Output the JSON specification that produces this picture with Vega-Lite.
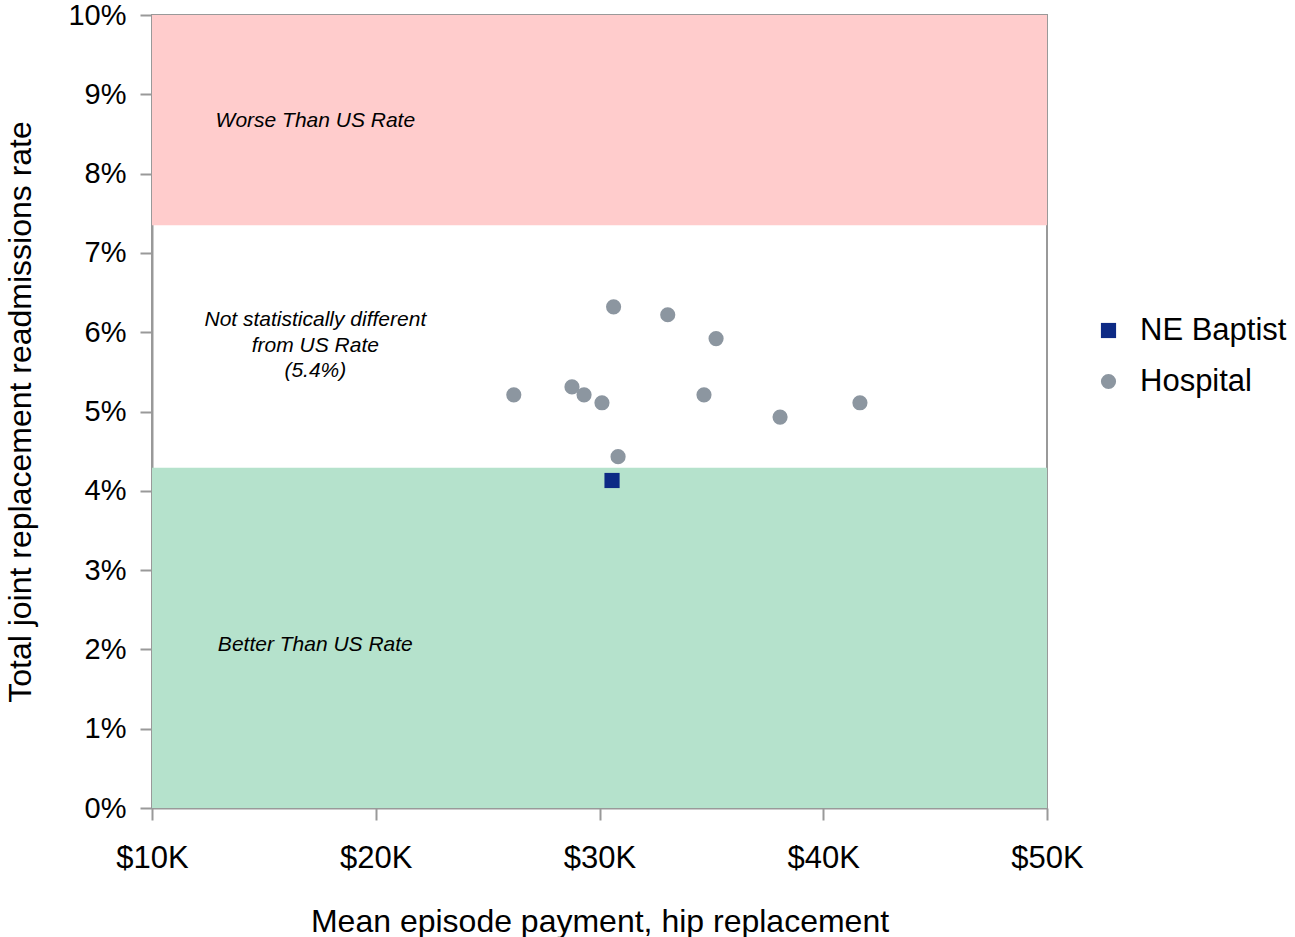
{
  "$schema": "https://vega.github.io/schema/vega-lite/v6.json",
  "autosize": "none",
  "width": 895,
  "height": 793,
  "padding": {"left": 152, "top": 15, "right": 248, "bottom": 129},
  "background": "white",
  "config": {
    "font": "Liberation Sans",
    "view": {"stroke": "#999999", "strokeWidth": 2},
    "axis": {
      "grid": false,
      "domainColor": "#999999",
      "domainWidth": 2,
      "tickColor": "#999999",
      "tickWidth": 2,
      "labelColor": "#000000",
      "titleColor": "#000000",
      "labelFont": "Liberation Sans",
      "titleFont": "Liberation Sans",
      "titleFontWeight": "normal",
      "labelFlush": false
    }
  },
  "datasets": {
    "zones": [
      {"zone": "Worse", "pay_lo": 10000, "pay_hi": 50000, "rate_lo": 7.35, "rate_hi": 10},
      {"zone": "Better", "pay_lo": 10000, "pay_hi": 50000, "rate_lo": 0, "rate_hi": 4.29}
    ],
    "notes": [
      {"note": ["Worse Than US Rate"], "payment": 17300, "rate": 8.66},
      {"note": ["Not statistically different", "from US Rate", "(5.4%)"], "payment": 17300, "rate": 6.15},
      {"note": ["Better Than US Rate"], "payment": 17300, "rate": 2.06}
    ],
    "hospitals": [
      {"type": "Hospital", "payment": 26170, "rate": 5.21},
      {"type": "Hospital", "payment": 28770, "rate": 5.31},
      {"type": "Hospital", "payment": 29310, "rate": 5.21},
      {"type": "Hospital", "payment": 30110, "rate": 5.11},
      {"type": "Hospital", "payment": 30630, "rate": 6.32},
      {"type": "Hospital", "payment": 33050, "rate": 6.22},
      {"type": "Hospital", "payment": 35210, "rate": 5.92},
      {"type": "Hospital", "payment": 34670, "rate": 5.21},
      {"type": "Hospital", "payment": 38070, "rate": 4.93},
      {"type": "Hospital", "payment": 41640, "rate": 5.11},
      {"type": "Hospital", "payment": 30830, "rate": 4.43},
      {"type": "NE Baptist", "payment": 30560, "rate": 4.13}
    ]
  },
  "layer": [
    {
      "data": {"name": "zones"},
      "transform": [{"filter": "datum.zone === 'Worse'"}],
      "mark": {"type": "rect", "color": "#FFCCCC", "opacity": 1},
      "encoding": {
        "x": {
          "field": "pay_lo", "type": "quantitative",
          "scale": {"domain": [10000, 50000], "nice": false, "zero": false},
          "axis": {
            "values": [10000, 20000, 30000, 40000, 50000],
            "labelExpr": "'$' + format(datum.value / 1000, 'd') + 'K'",
            "labelFontSize": 31,
            "labelPadding": 23,
            "tickSize": 12,
            "title": "Mean episode payment, hip replacement",
            "titleFontSize": 32,
            "titlePadding": 33
          }
        },
        "x2": {"field": "pay_hi"},
        "y": {
          "field": "rate_lo", "type": "quantitative",
          "scale": {"domain": [0, 10], "nice": false},
          "axis": {
            "values": [0, 1, 2, 3, 4, 5, 6, 7, 8, 9, 10],
            "labelExpr": "datum.value + '%'",
            "labelFontSize": 29,
            "labelPadding": 14,
            "tickSize": 12,
            "title": "Total joint replacement readmissions rate",
            "titleFontSize": 32,
            "titlePadding": 30
          }
        },
        "y2": {"field": "rate_hi"}
      }
    },
    {
      "data": {"name": "zones"},
      "transform": [{"filter": "datum.zone === 'Better'"}],
      "mark": {"type": "rect", "color": "#B5E2CC", "opacity": 1},
      "encoding": {
        "x": {"field": "pay_lo", "type": "quantitative"},
        "x2": {"field": "pay_hi"},
        "y": {"field": "rate_lo", "type": "quantitative"},
        "y2": {"field": "rate_hi"}
      }
    },
    {
      "data": {"name": "notes"},
      "mark": {
        "type": "text",
        "font": "Liberation Sans",
        "fontStyle": "italic",
        "fontSize": 21,
        "lineHeight": 25.5,
        "align": "center",
        "baseline": "middle",
        "color": "#000000"
      },
      "encoding": {
        "x": {"field": "payment", "type": "quantitative"},
        "y": {"field": "rate", "type": "quantitative"},
        "text": {"field": "note"}
      }
    },
    {
      "data": {"name": "hospitals"},
      "mark": {"type": "point", "filled": true, "opacity": 1, "size": 230},
      "encoding": {
        "x": {"field": "payment", "type": "quantitative"},
        "y": {"field": "rate", "type": "quantitative"},
        "color": {
          "field": "type", "type": "nominal",
          "scale": {"domain": ["NE Baptist", "Hospital"], "range": ["#0D2A85", "#8C96A0"]},
          "legend": {
            "title": null,
            "orient": "none",
            "legendX": 941,
            "legendY": 300,
            "labelFontSize": 31,
            "labelFont": "Liberation Sans",
            "labelColor": "#000000",
            "labelOffset": 16,
            "rowPadding": 19,
            "symbolSize": 230,
            "symbolOpacity": 1
          }
        },
        "shape": {
          "field": "type", "type": "nominal",
          "scale": {"domain": ["NE Baptist", "Hospital"], "range": ["square", "circle"]}
        },
        "order": {"field": "type", "sort": "ascending"}
      }
    }
  ]
}
